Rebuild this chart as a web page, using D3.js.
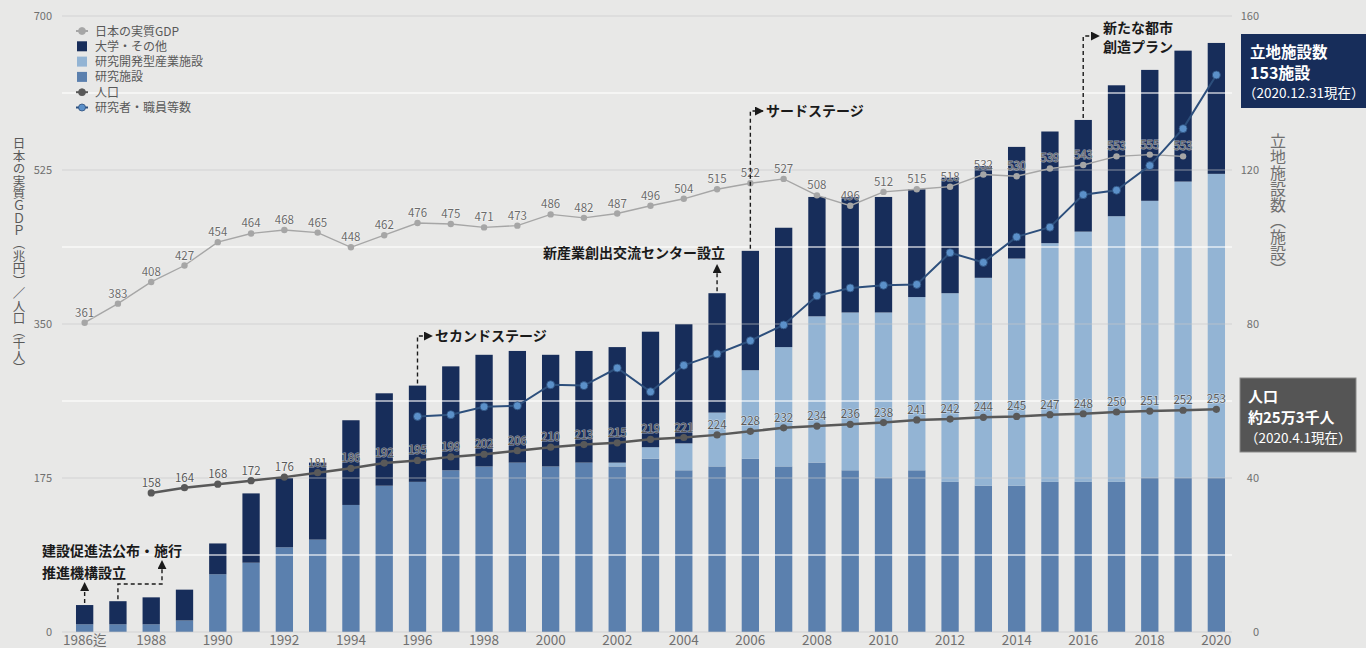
<!DOCTYPE html>
<html><head><meta charset="utf-8">
<script src="https://cdn.jsdelivr.net/npm/d3@7"></script>
<style>
html,body{margin:0;padding:0;background:#e8e8e7;}
svg{display:block;font-family:"Noto Sans CJK JP","Noto Sans",sans-serif;}
</style></head>
<body>
<svg id="chart" width="1366" height="648"></svg>
<script>
// ---------- data ----------
const years = [1986,1987,1988,1989,1990,1991,1992,1993,1994,1995,1996,1997,1998,1999,2000,2001,2002,2003,2004,2005,2006,2007,2008,2009,2010,2011,2012,2013,2014,2015,2016,2017,2018,2019,2020];
// 研究施設
const researchFacilities = [2,2,2,3,15,18,22,24,33,38,39,42,43,44,43,44,43,45,42,43,45,43,44,42,40,42,39,38,38,39,39,39,40,40,40];
// 研究開発型産業施設
const rdIndustrial = [0,0,0,0,0,0,0,0,0,0,0,0,0,0,0,0,1,3,7,14,23,31,38,41,43,45,49,54,59,62,65,69,72,77,79];
// 大学・その他
const universityOther = [5,6,7,8,8,18,18,20,22,24,25,27,29,29,29,29,30,30,31,31,31,31,31,30,30,28,30,29,29,29,29,34,34,34,34];
// 日本の実質GDP（兆円） 1986-2019
const gdpYears = [1986,1987,1988,1989,1990,1991,1992,1993,1994,1995,1996,1997,1998,1999,2000,2001,2002,2003,2004,2005,2006,2007,2008,2009,2010,2011,2012,2013,2014,2015,2016,2017,2018,2019];
const gdp = [361,383,408,427,454,464,468,465,448,462,476,475,471,473,486,482,487,496,504,515,522,527,508,496,512,515,518,532,530,539,543,553,555,553];
// 人口（千人） 1988-2020
const popYears = [1988,1989,1990,1991,1992,1993,1994,1995,1996,1997,1998,1999,2000,2001,2002,2003,2004,2005,2006,2007,2008,2009,2010,2011,2012,2013,2014,2015,2016,2017,2018,2019,2020];
const population = [158,164,168,172,176,181,186,192,195,199,202,206,210,213,215,219,221,224,228,232,234,236,238,241,242,244,245,247,248,250,251,252,253];
// 研究者・職員等数（百人, estimated） 1996-2020
const staffYears = [1996,1997,1998,1999,2000,2001,2002,2003,2004,2005,2006,2007,2008,2009,2010,2011,2012,2013,2014,2015,2016,2017,2018,2019,2020];
const staff = [245,247,256,257,281,280,300,273,303,316,331,349,382,391,394,395,431,420,449,460,497,502,530,572,633];
// ticks
const leftTicks = [0,175,350,525,700];
const rightTicks = [0,40,80,120,160];
const rightMinor = [20,60,100,140];
const xTickYears = [1986,1988,1990,1992,1994,1996,1998,2000,2002,2004,2006,2008,2010,2012,2014,2016,2018,2020];

const seriesKeys = ["research","rd","univ"];
const colors = {research:"#5b80ae", rd:"#93b4d4", univ:"#172d5a", gdp:"#a6a6a6", pop:"#595959", staffLine:"#2d4f7c", staffPt:"#5b90c9"};

// ---------- setup ----------
const svg = d3.select("#chart");
svg.append("rect").attr("width",1366).attr("height",648).attr("fill","#e8e8e7");

const x = d3.scaleBand().domain(years).range([68,1233]).paddingInner(0.48).paddingOuter(0.24);
const cx = y => x(y) + x.bandwidth()/2;
const yL = d3.scaleLinear().domain([0,700]).range([632,16]);
const yR = d3.scaleLinear().domain([0,160]).range([632,16]);
const yGdp = d3.scaleLinear().domain([4,715]).range([632,16]);

// stacked bars
const table = years.map((yr,i)=>({year:yr, research:researchFacilities[i], rd:rdIndustrial[i], univ:universityOther[i]}));
const stacked = d3.stack().keys(seriesKeys)(table);
const gBars = svg.append("g");
stacked.forEach(s=>{
  gBars.append("g").attr("fill",colors[s.key]).selectAll("rect").data(s).join("rect")
    .attr("x",d=>x(d.data.year)).attr("width",x.bandwidth())
    .attr("y",d=>yR(d[1])).attr("height",d=>Math.max(0,yR(d[0])-yR(d[1])));
});

// gridlines (drawn over bars)
const gGrid = svg.append("g");
gGrid.selectAll("line.minor").data(rightMinor).join("line")
  .attr("x1",62).attr("x2",1232).attr("y1",d=>yR(d)).attr("y2",d=>yR(d))
  .attr("stroke","#ffffff").attr("stroke-opacity",0.75).attr("stroke-width",1.5);
gGrid.selectAll("line.major").data(leftTicks).join("line")
  .attr("x1",62).attr("x2",1232).attr("y1",d=>yL(d)).attr("y2",d=>yL(d))
  .attr("stroke","#c8c8c8").attr("stroke-opacity",0.65).attr("stroke-width",1.2);

// axes
const axL = svg.append("g").attr("transform","translate(64,0)")
  .call(d3.axisLeft(yL).tickValues(leftTicks).tickSize(0).tickPadding(12));
const axR = svg.append("g").attr("transform","translate(1240,0)")
  .call(d3.axisRight(yR).tickValues(rightTicks).tickSize(0));
axR.selectAll("text").attr("text-anchor","end").attr("x",19);
const axB = svg.append("g").attr("transform","translate(0,632)")
  .call(d3.axisBottom(x).tickValues(xTickYears).tickSize(0).tickFormat(d=>d===1986?"1986迄":d));
[axL,axR,axB].forEach(a=>{a.select(".domain").remove(); a.selectAll("text").attr("fill","#707070").attr("font-family","'Noto Sans CJK JP',sans-serif");});
axL.selectAll("text").attr("font-size",11);
axR.selectAll("text").attr("font-size",11);
axB.selectAll("text").attr("font-size",13.5).attr("y",13).attr("dy",0);

// axis titles (vertical)
svg.append("text").attr("x",19).attr("y",137)
  .style("writing-mode","vertical-rl").attr("font-size",12.5).attr("fill","#595959")
  .text("日本の実質ＧＤＰ（兆円）／人口（千人）");
svg.append("text").attr("x",1278).attr("y",133)
  .style("writing-mode","vertical-rl").attr("font-size",16).attr("fill","#707070")
  .text("立地施設数（施設）");

// GDP line
const gdpData = gdpYears.map((yr,i)=>({year:yr,v:gdp[i]}));
svg.append("path").datum(gdpData).attr("fill","none").attr("stroke",colors.gdp).attr("stroke-width",1.4)
  .attr("d",d3.line().x(d=>cx(d.year)).y(d=>yGdp(d.v)));
svg.append("g").selectAll("circle").data(gdpData).join("circle")
  .attr("cx",d=>cx(d.year)).attr("cy",d=>yGdp(d.v)).attr("r",3.2).attr("fill",colors.gdp);

// staff line
const staffData = staffYears.map((yr,i)=>({year:yr,v:staff[i]}));
svg.append("path").datum(staffData).attr("fill","none").attr("stroke",colors.staffLine).attr("stroke-width",2)
  .attr("d",d3.line().x(d=>cx(d.year)).y(d=>yL(d.v)));
svg.append("g").selectAll("circle").data(staffData).join("circle")
  .attr("cx",d=>cx(d.year)).attr("cy",d=>yL(d.v)).attr("r",4).attr("fill",colors.staffPt)
  .attr("stroke",colors.staffLine).attr("stroke-width",0.8);

// population line
const popData = popYears.map((yr,i)=>({year:yr,v:population[i]}));
svg.append("path").datum(popData).attr("fill","none").attr("stroke",colors.pop).attr("stroke-width",2.5)
  .attr("d",d3.line().x(d=>cx(d.year)).y(d=>yL(d.v)));
svg.append("g").selectAll("circle").data(popData).join("circle")
  .attr("cx",d=>cx(d.year)).attr("cy",d=>yL(d.v)).attr("r",3.6).attr("fill",colors.pop);

// data labels
function labels(data, yScale, color){
  svg.append("g").selectAll("text").data(data).join("text")
    .attr("x",d=>cx(d.year)).attr("y",d=>yScale(d.v)-6).attr("text-anchor","middle")
    .attr("font-size",11.5).attr("fill",color)
    .attr("stroke","#ffffff").attr("stroke-width",1.2).attr("stroke-opacity",0.55).style("paint-order","stroke")
    .text(d=>d.v);
}
labels(gdpData, yGdp, "#6b6b6b");
labels(popData, yL, "#595959");

// legend
const legend = svg.append("g").attr("font-size",12).attr("fill","#595959");
const legItems = [
  {t:"日本の実質GDP", type:"dot", c:colors.gdp, s:colors.gdp},
  {t:"大学・その他", type:"sq", c:colors.univ},
  {t:"研究開発型産業施設", type:"sq", c:colors.rd},
  {t:"研究施設", type:"sq", c:colors.research},
  {t:"人口", type:"dot", c:colors.pop, s:colors.pop},
  {t:"研究者・職員等数", type:"dot", c:colors.staffPt, s:colors.staffLine}
];
legItems.forEach((it,i)=>{
  const yy = 31 + i*15.3;
  if(it.type==="sq"){
    legend.append("rect").attr("x",77).attr("y",yy-5).attr("width",10).attr("height",10).attr("fill",it.c);
  } else {
    legend.append("line").attr("x1",76).attr("x2",88).attr("y1",yy).attr("y2",yy).attr("stroke",it.s).attr("stroke-width",2);
    legend.append("circle").attr("cx",82).attr("cy",yy).attr("r",3.5).attr("fill",it.c).attr("stroke",it.s).attr("stroke-width",0.8);
  }
  legend.append("text").attr("x",95).attr("y",yy+4.5).text(it.t);
});

// annotations
const defs = svg.append("defs");
defs.append("marker").attr("id","ah").attr("viewBox","0 0 10 10").attr("refX",9).attr("refY",5)
  .attr("markerWidth",9).attr("markerHeight",9).attr("markerUnits","userSpaceOnUse").attr("orient","auto")
  .append("path").attr("d","M0,0L10,5L0,10Z").attr("fill","#1a1a1a");
const totals = years.map((yr,i)=>researchFacilities[i]+rdIndustrial[i]+universityOther[i]);
const topOf = yr => yR(totals[years.indexOf(yr)]) - 2;
function arrow(pts){
  svg.append("path").attr("d",d3.line()(pts)).attr("fill","none").attr("stroke","#1a1a1a")
    .attr("stroke-width",1.4).attr("stroke-dasharray","4,3").attr("marker-end","url(#ah)");
}
arrow([[cx(1986),topOf(1986)],[cx(1986),583]]);
arrow([[cx(1987),topOf(1987)],[cx(1987),584],[162,584],[162,561]]);
arrow([[cx(1996),topOf(1996)],[cx(1996),336],[432,336]]);
arrow([[cx(2005),topOf(2005)],[cx(2005),265]]);
arrow([[cx(2006),topOf(2006)],[cx(2006),111],[763,111]]);
arrow([[cx(2016),topOf(2016)],[cx(2016),36],[1099,36]]);

const ann = svg.append("g").attr("font-size",14).attr("font-weight","bold").attr("fill","#1a1a1a");
ann.append("text").attr("x",42).attr("y",556).text("建設促進法公布・施行");
ann.append("text").attr("x",42).attr("y",578).text("推進機構設立");
ann.append("text").attr("x",435).attr("y",341).text("セカンドステージ");
ann.append("text").attr("x",725).attr("y",258).attr("text-anchor","end").text("新産業創出交流センター設立");
ann.append("text").attr("x",766).attr("y",116).text("サードステージ");
ann.append("text").attr("x",1103).attr("y",33).text("新たな都市");
ann.append("text").attr("x",1103).attr("y",52).text("創造プラン");

// info boxes
const b1 = svg.append("g");
b1.append("rect").attr("x",1241).attr("y",34).attr("width",130).attr("height",74).attr("fill","#172d5a");
b1.append("text").attr("x",1250).attr("y",58).attr("font-size",15.5).attr("font-weight","bold").attr("fill","#fff").text("立地施設数");
b1.append("text").attr("x",1250).attr("y",79).attr("font-size",16).attr("font-weight","bold").attr("fill","#fff").text("153施設");
b1.append("text").attr("x",1243).attr("y",98).attr("font-size",13.5).attr("fill","#fff").text("（2020.12.31現在）");

const b2 = svg.append("g");
b2.append("rect").attr("x",1240).attr("y",378).attr("width",116).attr("height",74).attr("fill","#555555").attr("stroke","#8a8a8a").attr("stroke-width",1);
b2.append("text").attr("x",1248).attr("y",402).attr("font-size",15).attr("font-weight","bold").attr("fill","#fff").text("人口");
b2.append("text").attr("x",1248).attr("y",423).attr("font-size",15).attr("font-weight","bold").attr("fill","#fff").text("約25万3千人");
b2.append("text").attr("x",1245).attr("y",443).attr("font-size",13.5).attr("fill","#fff").text("（2020.4.1現在）");
</script>
</body></html>
